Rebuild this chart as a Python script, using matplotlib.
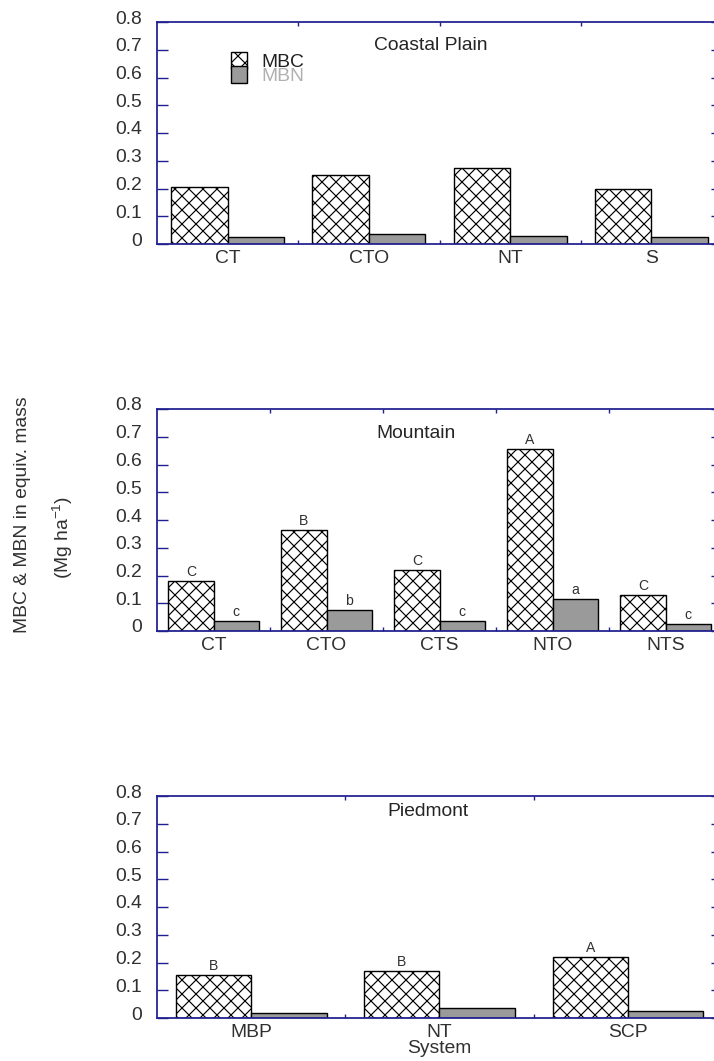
import matplotlib
matplotlib.use("Agg")
import matplotlib.pyplot as plt
import numpy as np
from matplotlib.ticker import FixedLocator
from matplotlib.transforms import ScaledTranslation

# ---------------- data ----------------
coastal_cats = ["CT", "CTO", "NT", "S"]
coastal_mbc = [0.205, 0.248, 0.273, 0.198]
coastal_mbn = [0.025, 0.035, 0.030, 0.025]

mountain_cats = ["CT", "CTO", "CTS", "NTO", "NTS"]
mountain_mbc = [0.180, 0.364, 0.220, 0.656, 0.130]
mountain_mbn = [0.036, 0.076, 0.036, 0.117, 0.025]
mountain_mbc_letters = ["C", "B", "C", "A", "C"]
mountain_mbn_letters = ["c", "b", "c", "a", "c"]

piedmont_cats = ["MBP", "NT", "SCP"]
piedmont_mbc = [0.155, 0.170, 0.220]
piedmont_mbn = [0.018, 0.036, 0.025]
piedmont_mbc_letters = ["B", "B", "A"]

yticks = [0, 0.1, 0.2, 0.3, 0.4, 0.5, 0.6, 0.7, 0.8]
ytick_labels = ["0", "0.1", "0.2", "0.3", "0.4", "0.5", "0.6", "0.7", "0.8"]

# ---------------- style ----------------
DPI = 84
plt.rcParams['font.family'] = ['Liberation Sans', 'DejaVu Sans']
plt.rcParams['mathtext.fontset'] = 'custom'
plt.rcParams['mathtext.rm'] = 'Liberation Sans'
plt.rcParams['mathtext.it'] = 'Liberation Sans:italic'
plt.rcParams['hatch.linewidth'] = 1.0

NAVY = '#1f1f8f'
TXT = '#303030'
GRAY = '#9a9a9a'
FS = 16.5

fig = plt.figure(figsize=(714 / DPI, 1061 / DPI), dpi=DPI)
W, H = 714.0, 1061.0
px = 72.0 / DPI  # points per pixel

left = 157 / W
width = 565 / W
height = 222 / H
bottoms = [1 - 244 / H, 1 - 631 / H, 1 - 1018 / H]

panels = [
    ("Coastal Plain", coastal_cats, coastal_mbc, coastal_mbn, None, None, (0.485, 1 - 23 / 222)),
    ("Mountain", mountain_cats, mountain_mbc, mountain_mbn, mountain_mbc_letters, mountain_mbn_letters, (0.458, 1 - 25 / 222)),
    ("Piedmont", piedmont_cats, piedmont_mbc, piedmont_mbn, piedmont_mbc_letters, None, (0.480, 1 - 16 / 222)),
]

bw = 0.4
for k, (title, cats, mbc, mbn, let_c, let_n, tpos) in enumerate(panels):
    ax = fig.add_axes([left, bottoms[k], width, height])
    x = np.arange(len(cats))
    b1 = ax.bar(x - bw / 2, mbc, width=bw, facecolor='white', edgecolor='black',
                hatch='xx', linewidth=1.2, label='MBC', zorder=2)
    b2 = ax.bar(x + bw / 2, mbn, width=bw, facecolor=GRAY, edgecolor='black',
                linewidth=1.2, label='MBN', zorder=2)
    ax.set_xlim(-0.5, len(cats) - 0.5)
    ax.set_ylim(0, 0.8)

    for sp in ax.spines.values():
        sp.set_color(NAVY)
        sp.set_linewidth(1.5)

    ax.yaxis.set_major_locator(FixedLocator(yticks))
    ax.set_yticklabels(ytick_labels)
    ax.tick_params(axis='y', which='major', direction='in', left=True, right=True,
                   length=11 * px, width=1.2, color=NAVY, labelsize=FS,
                   labelcolor=TXT, pad=15 * px)
    ax.xaxis.set_major_locator(FixedLocator(list(x)))
    ax.set_xticklabels(cats)
    ax.xaxis.set_minor_locator(FixedLocator(list(x[:-1] + 0.5)))
    ax.tick_params(axis='x', which='major', length=0, labelsize=FS,
                   labelcolor=TXT, pad=6 * px)
    ax.tick_params(axis='x', which='minor', direction='in', top=True, bottom=True,
                   length=4 * px, width=1.2, color=NAVY)

    off = ScaledTranslation(0, 5 / DPI, fig.dpi_scale_trans)
    for lab in ax.get_yticklabels():
        lab.set_transform(lab.get_transform() + off)

    ax.text(tpos[0], tpos[1], title, transform=ax.transAxes, ha='center',
            va='center', fontsize=FS, color='#252525')

    if let_c is not None:
        for xi, v, s in zip(x, mbc, let_c):
            ax.annotate(s, (xi - bw / 2, v), xytext=(0, 2), textcoords='offset pixels',
                        ha='center', va='bottom', fontsize=12, color=TXT)
    if let_n is not None:
        for xi, v, s in zip(x, mbn, let_n):
            ax.annotate(s, (xi + bw / 2, v), xytext=(0, 2), textcoords='offset pixels',
                        ha='center', va='bottom', fontsize=12, color=TXT)

    if k == 0:
        leg = ax.legend(handles=[b1, b2], loc='upper left',
                        bbox_to_anchor=(0.131, 1 - 30 / 222), borderaxespad=0,
                        borderpad=0, frameon=False, fontsize=FS, handlelength=0.85,
                        handleheight=0.95, handletextpad=0.75, labelspacing=-0.25)
        leg.get_texts()[0].set_color('#202020')
        leg.get_texts()[1].set_color('#b0b0b0')
        leg.get_texts()[1].set_zorder(1)

    if k == 2:
        ax.set_xlabel("System", fontsize=FS, color=TXT, labelpad=-1)

fig.text(23 / W, 1 - 515 / H, "MBC & MBN in equiv. mass", rotation=90,
         ha='center', va='center', fontsize=FS, color=TXT)
fig.text(63 / W, 1 - 537 / H, "(Mg ha$^{-1}$)", rotation=90,
         ha='center', va='center', fontsize=FS, color=TXT)

fig.savefig("out.png", dpi=DPI)
